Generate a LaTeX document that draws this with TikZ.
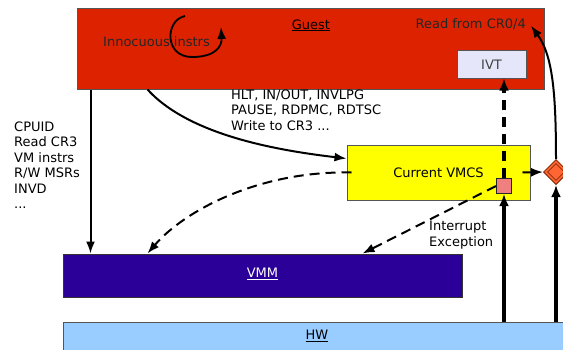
\documentclass[tikz,border=0pt]{standalone}
\usepackage{fontspec}
\setmainfont{DejaVu Sans}
\usetikzlibrary{arrows.meta,calc,shapes.geometric}

\definecolor{guestred}{HTML}{DD2200}
\definecolor{ivtfill}{HTML}{E6E6FA}
\definecolor{vmcsyellow}{HTML}{FFFF00}
\definecolor{vmmblue}{HTML}{2A0099}
\definecolor{hwblue}{HTML}{99CCFF}
\definecolor{pinkfill}{HTML}{F08080}
\definecolor{diafill}{HTML}{FF6633}
\definecolor{diaedge}{HTML}{8A2A0A}
\definecolor{boxedge}{HTML}{555555}

\tikzset{
  panel/.style={draw=boxedge, line width=1pt, inner sep=0pt, rectangle},
  lbl/.style={inner sep=0pt, font=\fontsize{13}{15.5}\selectfont},
  lst/.style={lbl, align=left, anchor=north west},
  arr/.style={line width=2pt, -{Latex[length=12pt,width=9pt]}},
  thickarr/.style={line width=3.4pt, -{Latex[length=12pt,width=10pt]}},
  dasharr/.style={arr, dash pattern=on 10pt off 6pt},
  thickdash/.style={thickarr, dash pattern=on 10pt off 7pt},
}

\begin{document}
\begin{tikzpicture}[x=1pt,y=-1pt]
\useasboundingbox (0,0) rectangle (563,349);

% layers
\node[panel, fill=hwblue, minimum width=508pt, minimum height=58pt] (hw) at (317,351) {};
\node[lbl] at (317,336) {\underline{HW}};

\node[panel, draw=black!80, fill=vmmblue, minimum width=399pt, minimum height=43pt] (vmm) at (262.5,275.5) {};
\node[lbl, text=white] at (262.5,274) {\underline{VMM}};

\node[panel, fill=guestred, minimum width=467pt, minimum height=81pt] (guest) at (310.5,48.5) {};
\node[lbl, anchor=base] at (311,29) {\underline{Guest}};
\node[lbl, anchor=base west, text=black!85] (inn) at (103,46) {Innocuous instrs};
\node[lbl, anchor=base east, text=black!85] (rd) at (526,28) {Read from CR0/4};

\node[panel, fill=ivtfill, minimum width=69pt, minimum height=28pt] (ivt) at (491.5,64) {};
\node[lbl, anchor=base, text=black!75] at (491.5,69) {IVT};

\node[panel, fill=vmcsyellow, minimum width=183pt, minimum height=55pt] (vmcs) at (438.5,172.5) {};
\node[lbl, anchor=base] at (438.5,177) {Current VMCS};

% exit sources
\node[panel, draw=black!85, fill=pinkfill, minimum size=15pt] (pk) at (504,186) {};
\node[diamond, draw=diaedge, line width=1pt, fill=diafill, inner sep=0pt,
      minimum width=25pt, minimum height=25pt] (dia) at (556,172) {};
\node[diamond, draw=diaedge, line width=0.8pt, inner sep=0pt,
      minimum width=17pt, minimum height=17pt] at (556,172) {};

% text lists
\node[lst] (trap) at (14,121.5) {CPUID\\Read CR3\\VM instrs\\R/W MSRs\\INVD\\...};
\node[lst] (cond) at (231,89.5) {HLT, IN/OUT, INVLPG\\PAUSE, RDPMC, RDTSC\\Write to CR3 ...};
\node[lst] (intr) at (429,221) {Interrupt\\Exception};

% innocuous instructions run in place
\draw[line width=1.8pt, -{Latex[length=12pt,width=9pt]}]
  (185,16) .. controls (165,20) and (164,57) .. (192,57)
           .. controls (216,57) and (222,46) .. (221,27);

% exits to the VMM
\draw[arr] ($(guest.south west)+(14,0)$) -- ($(vmm.north west)+(28,0)$);
\draw[arr] ($(guest.south west)+(71,0)$) .. controls +(42,46) and +(-68,-8) .. ($(vmcs.west)+(0,-14)$);
\draw[dasharr] ($(vmcs.west)+(5,0)$) .. controls +(-92,-2) and +(37,-43) .. ($(vmm.north west)+(85,0)$);
\draw[dasharr] (pk.west) -- ($(vmm.north west)+(300,0)$);

% interrupt path and control register reads
\draw[thickdash] (pk.north) -- (pk.north |- ivt.south);
\draw[thickarr] (pk.south |- hw.north) -- (pk.south);
\draw[thickarr] (dia.south |- hw.north) -- (dia.south);
\draw[arr] ($(vmcs.east)+(-8,0)$) -- (dia.west);
\coordinate (rdend) at ($(rd.east)+(5,2)$);
\draw[arr] (dia.north) .. controls +(0,-70) and +(21,29) .. (rdend);
\end{tikzpicture}
\end{document}
